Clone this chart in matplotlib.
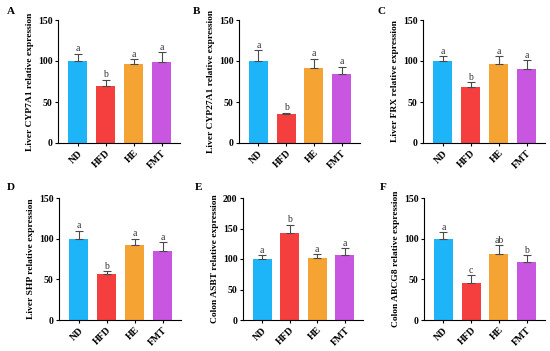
import matplotlib
matplotlib.use("Agg")
import matplotlib.pyplot as plt
import numpy as np

plt.rcParams['font.family'] = ['Liberation Serif', 'DejaVu Serif']

groups = ["ND", "HFD", "HE", "FMT"]
colors = ["#1EB4F8", "#F53F3F", "#F5A332", "#C856E0"]

panel_letters = ["A", "B", "C", "D", "E", "F"]
ylabels = ["Liver CYP7A1 relative expression",
           "Liver CYP27A1 relative expression",
           "Liver FRX relative expression",
           "Liver SHP relative expression",
           "Colon ASBT relative expression",
           "Colon ABCG8 relative expression"]
ymax = [150, 150, 150, 150, 200, 150]
yticks_step = [50, 50, 50, 50, 50, 50]

vals_A = [100, 70, 96, 99]
err_A = [9, 7, 6, 12]
sig_A = ["a", "b", "a", "a"]
vals_B = [100, 35, 91, 84]
err_B = [13, 2, 12, 9]
sig_B = ["a", "b", "a", "a"]
vals_C = [100, 68, 96, 90]
err_C = [6, 6, 10, 11]
sig_C = ["a", "b", "a", "a"]
vals_D = [100, 56, 92, 85]
err_D = [10, 4, 8, 11]
sig_D = ["a", "b", "a", "a"]
vals_E = [100, 143, 102, 107]
err_E = [6, 13, 6, 11]
sig_E = ["a", "b", "a", "a"]
vals_F = [100, 45, 81, 71]
err_F = [8, 10, 11, 9]
sig_F = ["a", "c", "ab", "b"]

values = [vals_A, vals_B, vals_C, vals_D, vals_E, vals_F]
errors = [err_A, err_B, err_C, err_D, err_E, err_F]
sigs = [sig_A, sig_B, sig_C, sig_D, sig_E, sig_F]

fig = plt.figure(figsize=(5.5, 3.51), dpi=100)
W, H = 550, 351
boxes = [(58, 180, 20, 143), (239, 360, 20, 143), (423, 545, 20, 143),
         (59, 181, 198, 320), (243, 363, 198, 320), (424, 545, 198, 320)]
letter_pos = [(7, 12), (193, 12), (378, 12), (7, 187), (195, 187), (380, 188)]

for i in range(6):
    l, r, t, b = boxes[i]
    ax = fig.add_axes([l / W, (H - b) / H, (r - l) / W, (b - t) / H])
    x = np.arange(len(groups))
    v = values[i]
    e = errors[i]
    ax.bar(x, v, width=0.68, color=colors, zorder=2)
    ax.errorbar(x, v, yerr=[np.zeros(len(e)), e], fmt='none', ecolor='#4a4a4a',
                elinewidth=0.8, capsize=3.2, capthick=0.8, zorder=3)
    for xi, vi, ei, s in zip(x, v, e, sigs[i]):
        ax.text(xi, vi + ei + ymax[i] * 0.003, s, ha='center', va='bottom',
                fontsize=7, color='#333333')
    ax.set_xlim(-0.7, 3.66)
    ax.set_ylim(0, ymax[i])
    ax.set_yticks(np.arange(0, ymax[i] + 1, yticks_step[i]))
    ax.set_xticks(x)
    ax.set_xticklabels(groups, rotation=45, ha='right', rotation_mode='anchor',
                       fontsize=7, fontweight='bold')
    for lab in ax.get_yticklabels():
        lab.set_fontsize(7)
        lab.set_fontweight('bold')
    ax.spines['top'].set_visible(False)
    ax.spines['right'].set_visible(False)
    ax.spines['left'].set_linewidth(0.8)
    ax.spines['bottom'].set_linewidth(0.8)
    ax.tick_params(axis='both', length=2.5, width=0.8, pad=1.5)
    ax.set_ylabel(ylabels[i], fontsize=6.8, fontweight='bold', labelpad=3)
    lx, ly = letter_pos[i]
    fig.text(lx / W, (H - ly) / H, panel_letters[i], fontsize=8,
             fontweight='bold', ha='left', va='center')

fig.savefig("out.png", dpi=100)
